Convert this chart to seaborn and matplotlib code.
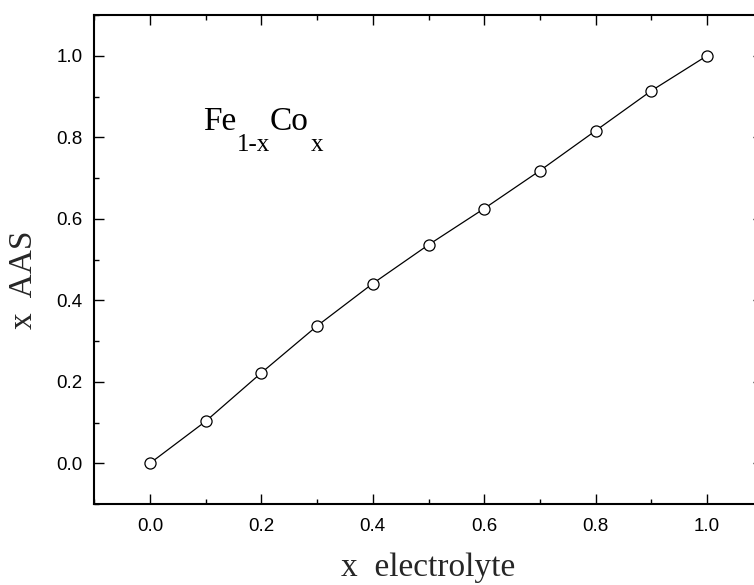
import matplotlib
matplotlib.use("Agg")
import matplotlib.pyplot as plt
from matplotlib.ticker import MultipleLocator
import seaborn as sns
import pandas as pd

x_electrolyte = [0.0, 0.1, 0.2, 0.3, 0.4, 0.5, 0.6, 0.7, 0.8, 0.9, 1.0]
x_aas = [0.0, 0.103, 0.222, 0.337, 0.441, 0.536, 0.625, 0.718, 0.816, 0.914, 1.0]
tick_labels = ["0.0", "0.2", "0.4", "0.6", "0.8", "1.0"]

sns.set_theme(style="ticks")
plt.rcParams['font.family'] = ['Liberation Sans', 'DejaVu Sans']

df = pd.DataFrame({"xe": x_electrolyte, "xa": x_aas})

W, H = 754, 585
fig = plt.figure(figsize=(W / 100, H / 100), dpi=100)
# axes in pixel coordinates
l, r, t, b = 94.3, 762.7, 15, 504
ax = fig.add_axes([l / W, (H - b) / H, (r - l) / W, (b - t) / H])

sns.lineplot(data=df, x="xe", y="xa", ax=ax, color="black", lw=0.9,
             marker="o", markersize=8, markerfacecolor="white",
             markeredgecolor="black", markeredgewidth=0.9)

ax.set_xlim(-0.1, 1.1)
ax.set_ylim(-0.1, 1.1)
ticks = [float(s) for s in tick_labels]
ax.set_xticks(ticks)
ax.set_xticklabels(tick_labels)
ax.set_yticks(ticks)
ax.set_yticklabels(tick_labels)
ax.xaxis.set_minor_locator(MultipleLocator(0.1))
ax.yaxis.set_minor_locator(MultipleLocator(0.1))
ax.tick_params(which="both", direction="in", top=True, right=True,
               labelsize=13.5, colors="black", width=1.0)
ax.tick_params(which="major", length=7.2)
ax.tick_params(which="minor", length=3.8)
ax.tick_params(axis="x", pad=10)
ax.tick_params(axis="y", pad=8.5)
for s in ax.spines.values():
    s.set_linewidth(1.5)
    s.set_color("black")

ax.set_xlabel("x  electrolyte", fontsize=24, family=["Liberation Serif"], labelpad=13)
ax.set_ylabel("x  AAS", fontsize=24, family=["Liberation Serif"])
ax.yaxis.set_label_coords(-0.083, 0.458)

serif = ["Liberation Serif"]
t1 = ax.text(0.095, 0.818, "Fe", transform=ax.transData, fontsize=24,
             family=serif, color="black", va="baseline", ha="left")
t2 = ax.annotate("1-x", xy=(1, 0), xycoords=t1, xytext=(0.5, -13.5),
                 textcoords="offset points", fontsize=18, family=serif,
                 color="black", va="bottom", ha="left")
t3 = ax.annotate("Co", xy=(1, 0), xycoords=t2, xytext=(-0.5, 13.5),
                 textcoords="offset points", fontsize=24, family=serif,
                 color="black", va="bottom", ha="left")
t4 = ax.annotate("x", xy=(1, 0), xycoords=t3, xytext=(2.0, -13.5),
                 textcoords="offset points", fontsize=18, family=serif,
                 color="black", va="bottom", ha="left")

fig.savefig("out.png", dpi=100)
